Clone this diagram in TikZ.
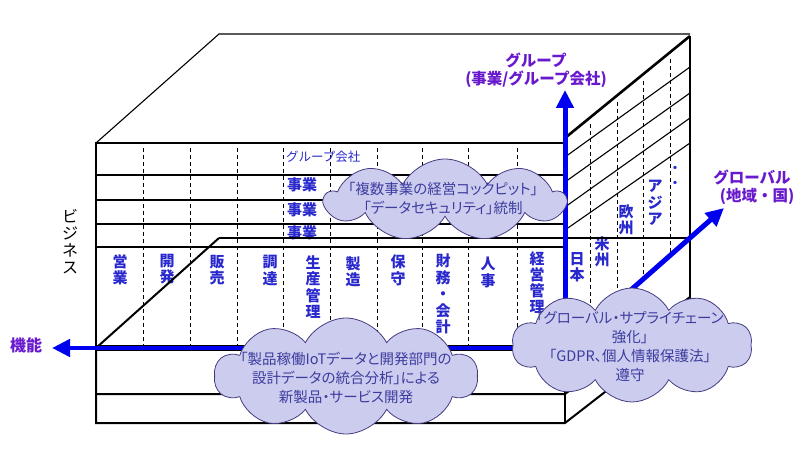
\documentclass[tikz,border=0pt]{standalone}
\usepackage{fontspec}
\newfontfamily\jp{Noto Sans CJK JP}
\newfontfamily\jpp{Noto Sans CJK JP}[RawFeature=+palt]
\usetikzlibrary{arrows.meta,shapes.symbols}
\definecolor{labblue}{RGB}{40,40,205}
\definecolor{axviolet}{RGB}{105,25,205}
\definecolor{cloudfill}{RGB}{204,204,238}
\definecolor{clouddraw}{RGB}{70,60,130}
\definecolor{cloudtext}{RGB}{60,60,160}
\definecolor{arrowblue}{RGB}{0,0,240}
\tikzset{
  thinln/.style={line width=1.1pt},
  medln/.style={line width=2pt},
  thickln/.style={line width=2.6pt},
  dashln/.style={line width=0.9pt, dash pattern=on 4pt off 3pt},
  collab/.style={font=\jp\bfseries\fontsize{15}{16.5}\selectfont, text=labblue, align=center, anchor=north, inner sep=0pt},
  rowlab/.style={font=\jp\bfseries\fontsize{15}{16}\selectfont, text=labblue, anchor=west, inner sep=0pt},
  axlab/.style={font=\jp\bfseries\fontsize{15.5}{18}\selectfont, text=axviolet, align=center, inner sep=0pt},
  bluearrow/.style={draw=arrowblue, line width=5pt, -{Triangle[length=18pt,width=17pt]}},
  cloudsty/.style={cloud, cloud puffs=10, cloud puff arc=125, cloud ignores aspect, draw=clouddraw, fill=cloudfill, line width=0.8pt, inner sep=0pt},
  cloudtxt/.style={font=\jpp\fontsize{14.5}{19}\selectfont, text=cloudtext, align=center, inner sep=0pt},
}
\begin{document}
\begin{tikzpicture}[x=1pt,y=-1pt]
\useasboundingbox (0,0) rectangle (808,454);
% key coordinates
\coordinate (o) at (565,348);
\coordinate (gtip) at (565,90);
\coordinate (ftip) at (52,348);
\coordinate (rtip) at (724,208);
\coordinate (fl) at (96,348);
\coordinate (ftl) at (96,143);
\coordinate (ftr) at (565,143);
\coordinate (ttl) at (219,34);
\coordinate (ttr) at (690,34);
\coordinate (rtt) at (565,138);
\coordinate (rtr) at (690,36);
\coordinate (rb1) at (690,297);
\coordinate (rb2) at (690,326);
\coordinate (fb1l) at (96,394);
\coordinate (fb1r) at (565,394);
\coordinate (fb2l) at (96,423);
\coordinate (fb2r) at (565,423);
\coordinate (pl) at (219,238);
\coordinate (pr) at (690,238);

% lower slab
\draw[medln] (fl) -- (fb2l) -- (fb2r) -- (rb2) -- (rb1);
\draw[medln] (fb1l) -- (fb1r) -- (rb1);
\draw[medln] (o) -- (fb2r);

% top face
\draw[thinln] (ftl) -- (ttl) -- (ttr);
% right face
\draw[thickln] (rtt) -- (rtr);
\draw[medln] (rtr) -- (rb1);
\foreach \a/\b in {157/67,182/93,207/118,230/143}{
  \draw[thinln] (565,\a) -- (690,\b);
}
\foreach \x/\t/\bb in {590/124/326,617/102/302,643/81/279,670/59/255}{
  \draw[dashln] (\x,\t) -- (\x,\bb);
}
% front face
\draw[thickln] (ftr) -- (ftl) -- (fl);
\foreach \y in {175,200,224,247}{
  \draw[thinln] (96,\y) -- (565,\y);
}
\foreach \x in {143,190,237,283,330,377,422,468,517}{
  \draw[dashln] (\x,148) -- (\x,346);
}

% column labels
\node[collab] (c1) at (120,254) {営\\業};
\node[collab] (c2) at (167,254) {開\\発};
\node[collab] (c3) at (217,255) {販\\売};
\node[collab] (c4) at (270,255) {調\\達};
\node[collab] (c5) at (313,255) {生\\産\\管\\理};
\node[collab] (c6) at (353,256) {製\\造};
\node[collab] (c7) at (398,255) {保\\守};
\node[collab] (c8) at (443,254) {財\\務\\・\\会\\計};
\node[collab] (c9) at (488,257) {人\\事};
\node[collab, font=\jp\bfseries\fontsize{15}{16}\selectfont] (c10) at (537,251) {経\\営\\管\\理};
\node[collab] (g1) at (577,252) {日\\本};
\node[collab] (g2) at (602,236) {米\\州};
\node[collab] (g3) at (626,204) {欧\\州};
\node[collab] (g4) at (655,180) {ア\\ジ\\ア};
\node[font=\jp\bfseries\fontsize{12}{15}\selectfont, text=labblue, align=center, inner sep=0pt] (g5) at (675,177) {・\\・};

% row labels
\node[font=\jp\fontsize{12.5}{14}\selectfont, text=labblue, anchor=west, inner sep=0pt] (r0) at (286,157) {グループ会社};
\node[rowlab] (r1) at (287,185) {事業};
\node[rowlab] (r2) at (287,210) {事業};
\node[rowlab] (r3) at (287,233) {事業};

% business label
\node[font=\jp\fontsize{16}{17}\selectfont, align=center, anchor=north, inner sep=0pt] (biz) at (70,209) {ビ\\ジ\\ネ\\ス};

% floor plane
\draw[medln] (fl) -- (pl);
\draw[thickln] (pl) -- (pr);
\draw[line width=6.5pt] (fl) -- (o);

% axes
\draw[bluearrow] (o) -- (gtip);
\draw[bluearrow, line width=4.5pt] (o) -- (ftip);
\draw[bluearrow] (o) -- (rtip);

% axis labels
\node[axlab] (ax1) at (536,70) {グループ\\(事業/グループ会社)};
\node[axlab] (ax2) at (752,187) {グローバル\\\hspace*{10pt}(地域・国)};
\node[axlab, font=\jp\bfseries\fontsize{16}{18}\selectfont] (ax3) at (26,345) {機能};

% clouds
\node[cloudsty, minimum width=240pt, minimum height=82pt, cloud puffs=9] (cl1) at (445,200) {};
\node[cloudtxt] (cl1t) at (443,198) {「複数事業の経営コックピット」\\「データセキュリティ」統制};
\node[cloudsty, minimum width=263pt, minimum height=116pt] (cl2) at (346,376) {};
\node[cloudtxt] (cl2t) at (346,378) {「製品稼働IoTデータと開発部門の\\設計データの統合分析」による\\新製品・サービス開発};
\node[cloudsty, minimum width=240pt, minimum height=114pt] (cl3) at (632,345) {};
\node[cloudtxt] (cl3t) at (630,346) {「グローバル・サプライチェーン\\強化」\\「GDPR、個人情報保護法」\\遵守};
\end{tikzpicture}
\end{document}
